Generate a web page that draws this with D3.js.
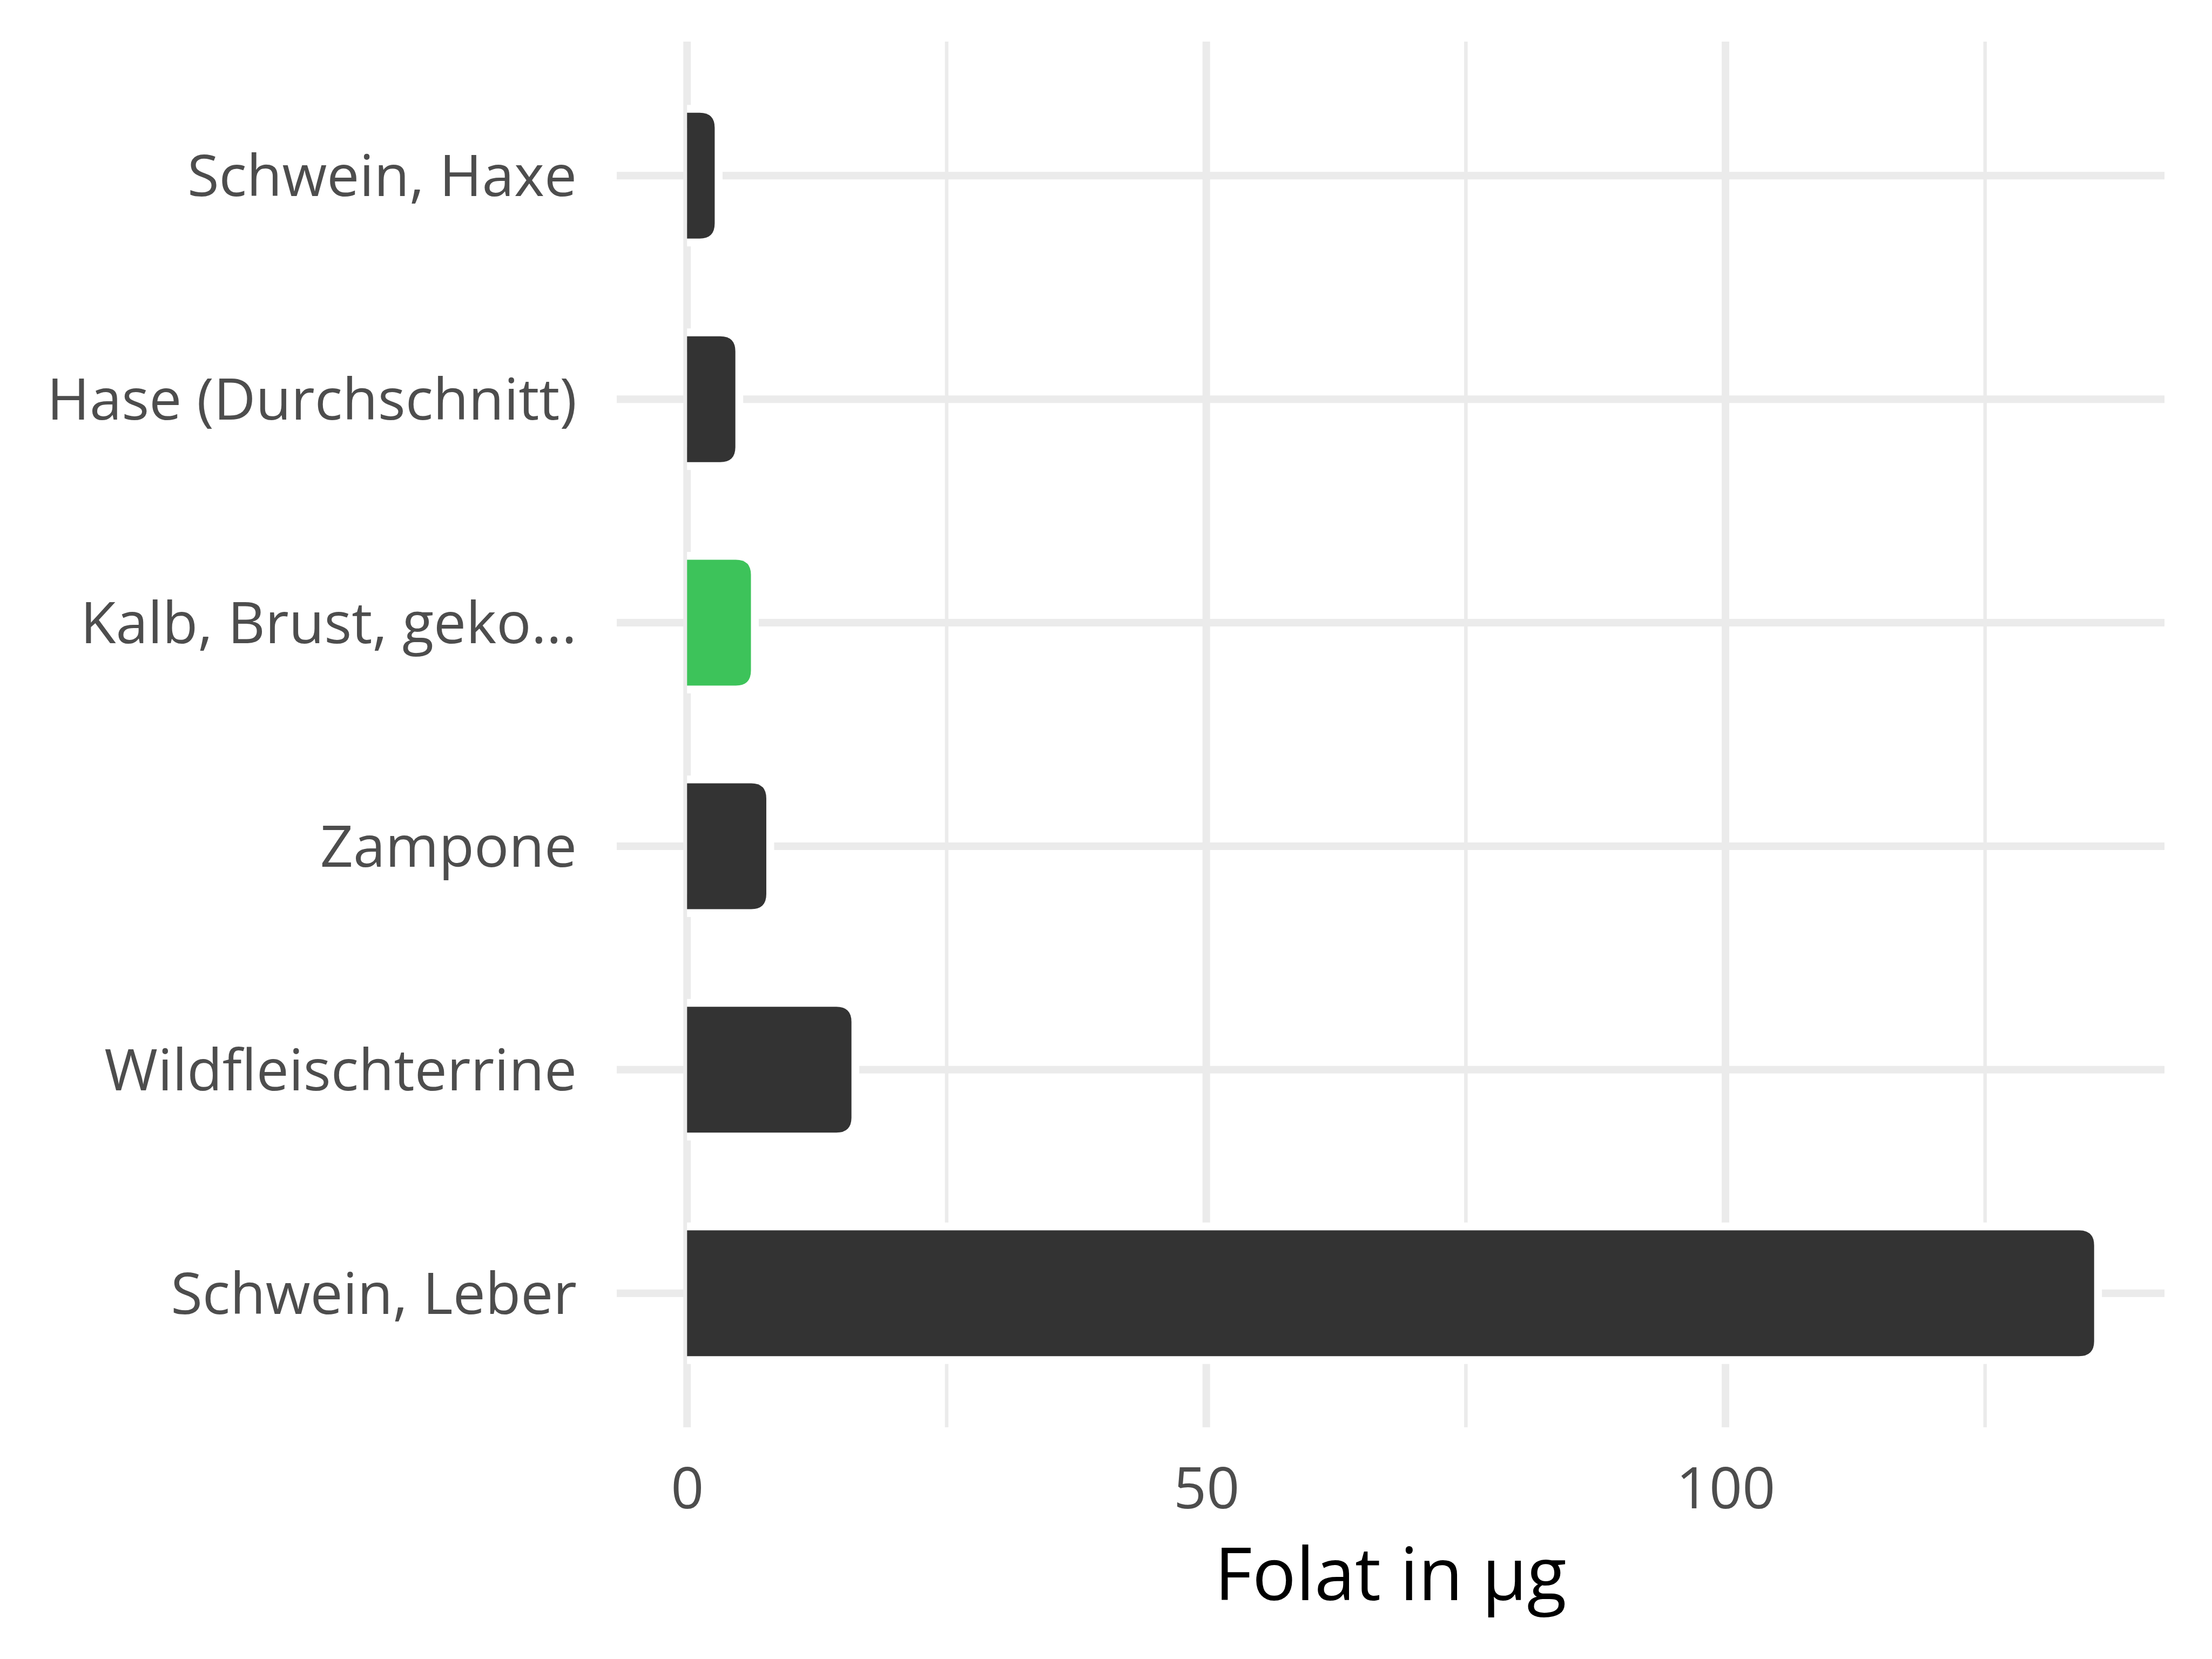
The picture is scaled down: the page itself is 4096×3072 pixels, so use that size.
<!DOCTYPE html>
<html>
<head>
<meta charset="utf-8">
<script src="https://cdn.jsdelivr.net/npm/d3@7"></script>
<style>
  html, body { margin: 0; padding: 0; background: #ffffff; }
  svg { display: block; }
</style>
</head>
<body>
<script>
// ---- data ----
const categories = ["Schwein, Haxe", "Hase (Durchschnitt)", "Kalb, Brust, geko...", "Zampone", "Wildfleischterrine", "Schwein, Leber"];
const values = [2.66, 4.65, 6.15, 7.63, 15.83, 135.5];
const highlighted = ["Kalb, Brust, geko..."];
const xTickValues = [0, 50, 100];
const xMinorValues = [25, 75, 125];
const xTitle = "Folat in µg";

// ---- layout ----
const W = 4096, H = 3072;
const panel = { left: 1142, right: 4008, top: 77, bottom: 2643 };
const fontFam = "'Open Sans', 'Noto Sans', sans-serif";

const svg = d3.select("body").append("svg").attr("width", W).attr("height", H);
svg.append("rect").attr("width", W).attr("height", H).attr("fill", "#ffffff");

const maxV = d3.max(values);
const x = d3.scaleLinear().domain([-0.05 * maxV, 1.05 * maxV]).range([panel.left, panel.right]);
const y = d3.scalePoint().domain(categories).range([panel.top, panel.bottom]).padding(0.6);
const barH = y.step() * 0.563;

const grid = svg.append("g");
// minor vertical gridlines
grid.selectAll("line.minor").data(xMinorValues).enter().append("line")
  .attr("x1", d => x(d)).attr("x2", d => x(d))
  .attr("y1", panel.top).attr("y2", panel.bottom)
  .attr("stroke", "#ebebeb").attr("stroke-width", 6.5);
// major vertical gridlines
grid.selectAll("line.majorx").data(xTickValues).enter().append("line")
  .attr("x1", d => x(d)).attr("x2", d => x(d))
  .attr("y1", panel.top).attr("y2", panel.bottom)
  .attr("stroke", "#ebebeb").attr("stroke-width", 14);
// horizontal gridlines
grid.selectAll("line.majory").data(categories).enter().append("line")
  .attr("x1", panel.left).attr("x2", panel.right)
  .attr("y1", d => y(d)).attr("y2", d => y(d))
  .attr("stroke", "#ebebeb").attr("stroke-width", 14);

function barPath(x0, x1, yt, yb, r) {
  r = Math.min(r, (x1 - x0), (yb - yt) / 2);
  return `M${x0},${yt} L${x1 - r},${yt} Q${x1},${yt} ${x1},${yt + r} L${x1},${yb - r} Q${x1},${yb} ${x1 - r},${yb} L${x0},${yb} Z`;
}

const data = categories.map((c, i) => ({ c, v: values[i] }));
const gap = 14.5, rad = 28;
const bars = svg.append("g");
bars.selectAll("path.under").data(data).enter().append("path")
  .attr("d", d => barPath(x(0), x(d.v) + gap, y(d.c) - barH / 2 - gap, y(d.c) + barH / 2 + gap, rad + gap))
  .attr("fill", "#ffffff");
bars.selectAll("path.bar").data(data).enter().append("path")
  .attr("d", d => barPath(x(0), x(d.v), y(d.c) - barH / 2, y(d.c) + barH / 2, rad))
  .attr("fill", d => highlighted.includes(d.c) ? "#3dc35a" : "#333333");

// y axis labels
const yAxis = d3.axisLeft(y).tickSize(0).tickPadding(0);
const yg = svg.append("g").attr("transform", `translate(1068,0)`).call(yAxis);
yg.select(".domain").remove();
yg.selectAll("text")
  .attr("font-family", fontFam).attr("font-size", 107).attr("fill", "#4d4d4d")
  .attr("x", 0).attr("dy", "0.35em").attr("text-anchor", "end");

// x axis labels
const xAxis = d3.axisBottom(x).tickValues(xTickValues).tickSize(0).tickPadding(0).tickFormat(d3.format("d"));
const xg = svg.append("g").attr("transform", `translate(0,2793)`).call(xAxis);
xg.select(".domain").remove();
xg.selectAll("text")
  .attr("font-family", fontFam).attr("font-size", 107).attr("fill", "#4d4d4d")
  .attr("y", 0).attr("dy", 0).attr("text-anchor", "middle");

// x title
svg.append("text")
  .attr("x", (panel.left + panel.right) / 2).attr("y", 2963)
  .attr("text-anchor", "middle")
  .attr("font-family", fontFam).attr("font-size", 135).attr("fill", "#000000")
  .text(xTitle);
</script>
</body>
</html>
